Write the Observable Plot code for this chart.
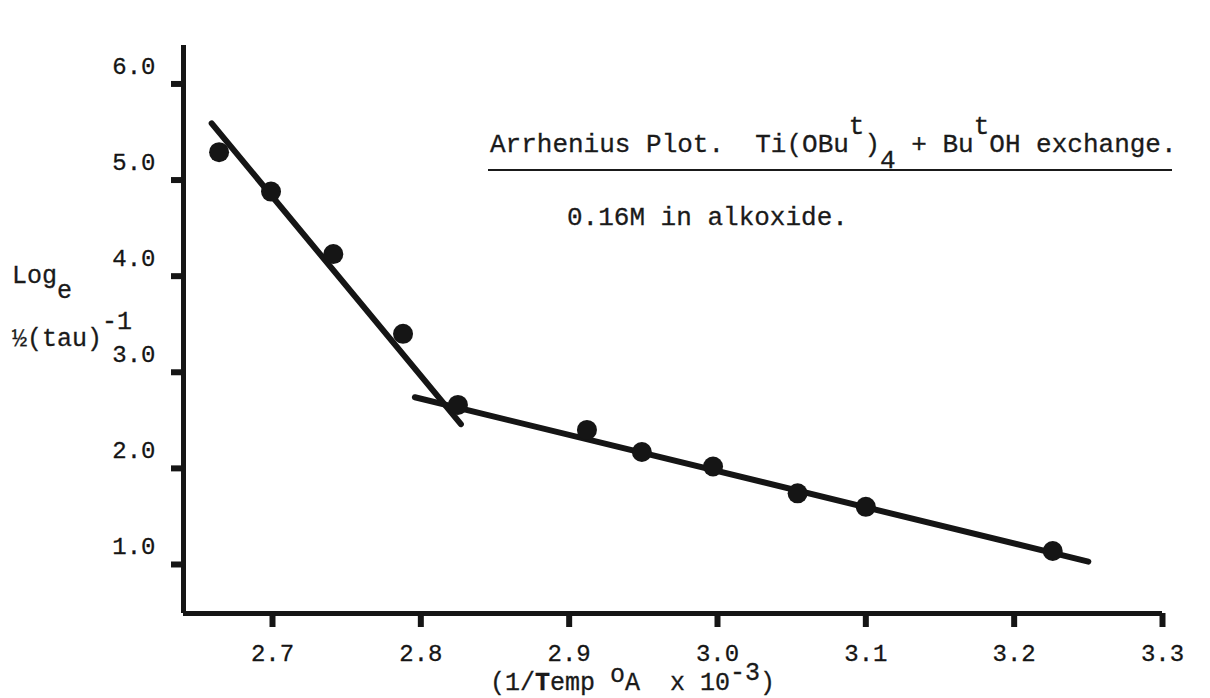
<!DOCTYPE html>
<html><head><meta charset="utf-8">
<script src="https://cdn.jsdelivr.net/npm/d3@7"></script>
<script src="https://cdn.jsdelivr.net/npm/@observablehq/plot@0.6"></script>
<style>
html,body{margin:0;padding:0;background:#fff;}
#wrap{position:relative;width:1210px;height:698px;overflow:hidden;font-family:"Liberation Mono",monospace;color:#1a1a1a;}
#wrap svg{position:absolute;left:0;top:0;}
.t{position:absolute;white-space:pre;line-height:1;-webkit-text-stroke:0.3px #1a1a1a;}
.up{position:relative;top:-0.7em;}
.dn{position:relative;top:0.6em;}
.up2{position:relative;top:-0.4em;}
.up3{position:relative;top:-0.32em;}
.rule{position:absolute;border-top:2.5px solid #1a1a1a;height:0;}
</style></head><body><div id="wrap"></div>
<script>
// 1/T (x 10^-3) of the measured points
const xValues = [2.664, 2.699, 2.741, 2.788, 2.825, 2.912, 2.949, 2.997, 3.054, 3.100, 3.226];
// Log_e 1/2(tau)^-1
const yValues = [5.29, 4.88, 4.23, 3.40, 2.66, 2.40, 2.17, 2.02, 1.74, 1.60, 1.14];
// hand-drawn fitted lines (end points)
const steepX = [2.659, 2.827];
const steepY = [5.59, 2.46];
const shallowX = [2.796, 3.250];
const shallowY = [2.74, 1.03];
// axis ticks
const xTicks = [2.7, 2.8, 2.9, 3.0, 3.1, 3.2, 3.3];
const yTicks = [1.0, 2.0, 3.0, 4.0, 5.0, 6.0];
const xDomain = [2.64, 3.30];
const yDomain = [0.49, 6.4];

const ink = "#151515";
const points = xValues.map((x, i) => ({x, y: yValues[i]}));
const fits = [
  ...steepX.map((x, i) => ({x, y: steepY[i], seg: "steep"})),
  ...shallowX.map((x, i) => ({x, y: shallowY[i], seg: "shallow"}))
];

const plot = Plot.plot({
  width: 1210, height: 698,
  marginLeft: 183, marginRight: 48, marginTop: 45, marginBottom: 85,
  x: {domain: xDomain, label: null},
  y: {domain: yDomain, label: null},
  style: {fontFamily: '"Liberation Mono", monospace', fontSize: "24px", color: ink, background: "transparent"},
  marks: [
    Plot.ruleX([xDomain[0]], {x: d => d, y1: yDomain[0], y2: yDomain[1], stroke: ink, strokeWidth: 5}),
    Plot.ruleY([yDomain[0]], {y: d => d, x1: xDomain[0], x2: xDomain[1], stroke: ink, strokeWidth: 5}),
    Plot.axisX(xTicks, {tickSize: 14, strokeWidth: 6, fill: "none", label: null}),
    Plot.axisX(xTicks, {tickSize: 14, tickPadding: 16, stroke: "none", tickFormat: d => d.toFixed(1), label: null, textStroke: ink, textStrokeWidth: 0.3}),
    Plot.axisY(yTicks, {tickSize: 12, strokeWidth: 6, fill: "none", label: null}),
    Plot.axisY(yTicks, {tickSize: 12, tickPadding: 16, dy: -18, stroke: "none", tickFormat: d => d.toFixed(1), label: null, textStroke: ink, textStrokeWidth: 0.3}),
    Plot.line(fits, {x: "x", y: "y", z: "seg", stroke: ink, strokeWidth: 6, strokeLinecap: "round"}),
    Plot.dot(points, {x: "x", y: "y", r: 10, fill: ink})
  ]
});

const wrap = document.getElementById("wrap");
wrap.appendChild(plot);

function addText(html, left, top, size, extra) {
  const d = document.createElement("div");
  d.className = "t";
  d.style.left = left + "px";
  d.style.top = top + "px";
  d.style.fontSize = size + "px";
  if (extra) Object.assign(d.style, extra);
  d.innerHTML = html;
  wrap.appendChild(d);
}
addText('Arrhenius Plot.  Ti(OBu<span class="up">t</span>)<span class="dn">4</span> + Bu<span class="up">t</span>OH exchange.', 490, 132, 26);
const r = document.createElement("div");
r.className = "rule";
Object.assign(r.style, {left: "488px", top: "169px", width: "684px"});
wrap.appendChild(r);
addText('0.16M in alkoxide.', 567, 205, 26);
addText('Log<span class="dn">e</span>', 12, 264, 25);
addText('½(tau)<span class="up">-1</span>', 12, 327, 25);
addText('(1/<b>T</b>emp <span class="up3">o</span>A  x 10<span class="up2">-3</span>)', 490, 671, 25);
</script></body></html>
